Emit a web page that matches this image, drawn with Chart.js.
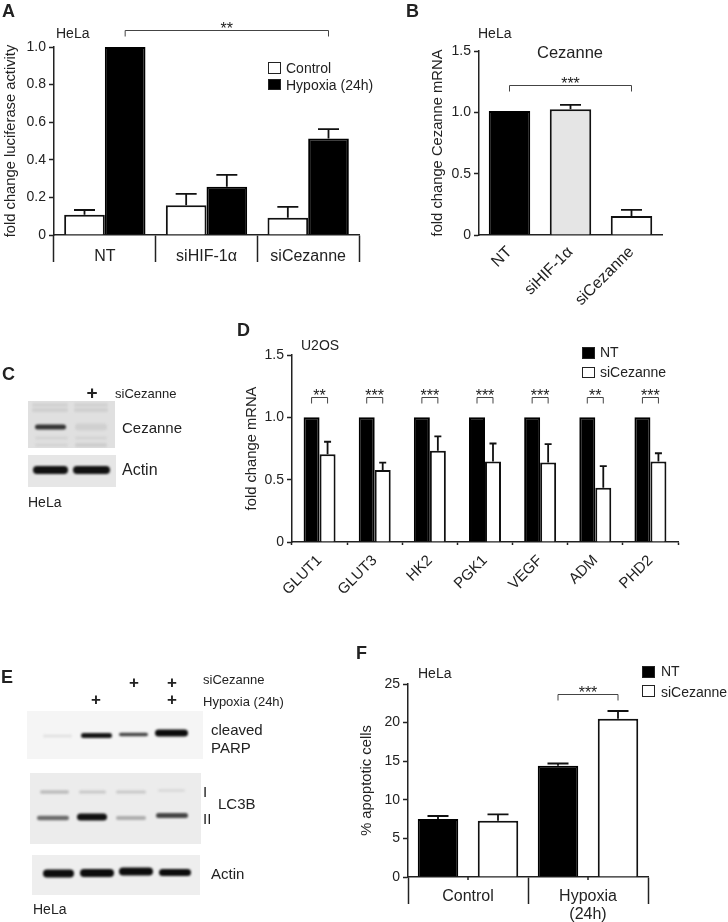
<!DOCTYPE html>
<html>
<head>
<meta charset="utf-8">
<script src="https://cdn.jsdelivr.net/npm/chart.js@4"></script>
<style>
  html, body { margin: 0; padding: 0; background: #fff; }
  #fig { position: relative; width: 728px; height: 922px; overflow: hidden; filter: blur(0.35px);
         font-family: "Liberation Sans", Arial, sans-serif; color: #222; }
  #fig canvas { position: absolute; }
  .txt { position: absolute; white-space: nowrap; line-height: 1; transform: translateY(-50%); }
  .mid { transform: translate(-50%, -50%); }
  .swatch { position: absolute; box-sizing: border-box; border: 1.5px solid #222; }
</style>
</head>
<body>
<div id="fig">
  <canvas id="blots" width="728" height="922"></canvas>
  <canvas id="chartA"></canvas>
  <canvas id="chartB"></canvas>
  <canvas id="chartD"></canvas>
  <canvas id="chartF"></canvas>
</div>
<script>
// panel A
const lucCategories = ['NT', 'siHIF-1α', 'siCezanne'];
const lucControl = [0.108, 0.158, 0.092];
const lucControlTop = [0.133, 0.219, 0.15];
const lucHypoxia = [1.0, 0.257, 0.513];
const lucHypoxiaTop = [null, 0.32, 0.563];

// panel B
const cezCategories = ['NT', 'siHIF-1α', 'siCezanne'];
const cezValues = [1.01, 1.025, 0.155];
const cezTop = [null, 1.06, 0.205];

// panel D
const geneCategories = ['GLUT1', 'GLUT3', 'HK2', 'PGK1', 'VEGF', 'ADM', 'PHD2'];
const geneNT = [1, 1, 1, 1, 1, 1, 1];
const geneSi = [0.704, 0.578, 0.731, 0.645, 0.637, 0.435, 0.645];
const geneSiTop = [0.804, 0.637, 0.847, 0.79, 0.785, 0.608, 0.712];
const geneStars = ['**', '***', '***', '***', '***', '**', '***'];

// panel F
const apoCategories = ['Control', ['Hypoxia', '(24h)']];
const apoNT = [7.5, 14.4];
const apoNTTop = [7.9, 14.7];
const apoSi = [7.3, 20.5];
const apoSiTop = [8.1, 21.5];

const INK = '#222';
const fig = document.getElementById('fig');

// error bars, brackets and the little centre ticks of panel F
const figureMarks = {
  id: 'figureMarks',
  afterDatasetsDraw(chart, args, opts) {
    const c = chart.ctx;
    const y = chart.scales.y;
    c.save();
    (opts.errorTops || []).forEach((tops, ds) => {
      const bars = chart.getDatasetMeta(ds).data;
      tops.forEach((top, i) => {
        if (top == null) return;
        const px = y.getPixelForValue(top);
        c.strokeStyle = '#111';
        c.lineWidth = 1.8;
        c.beginPath();
        c.moveTo(bars[i].x, bars[i].y);
        c.lineTo(bars[i].x, px);
        c.moveTo(bars[i].x - opts.cap / 2, px);
        c.lineTo(bars[i].x + opts.cap / 2, px);
        c.stroke();
      });
    });
    (opts.brackets || []).forEach(b => {
      const x0 = chart.getDatasetMeta(b.from[0]).data[b.from[1]].x;
      const x1 = chart.getDatasetMeta(b.to[0]).data[b.to[1]].x;
      const py = Math.round(y.getPixelForValue(b.top)) + 0.5;
      c.strokeStyle = '#444';
      c.lineWidth = 1;
      c.beginPath();
      c.moveTo(x0, py + 6);
      c.lineTo(x0, py);
      c.lineTo(x1, py);
      c.lineTo(x1, py + 6);
      c.stroke();
      c.fillStyle = INK;
      c.font = '16px "Liberation Sans"';
      c.textAlign = 'center';
      c.fillText(b.stars, (x0 + x1) / 2, py + 3);
    });
    if (opts.centerTicks) {
      const x = chart.scales.x;
      c.strokeStyle = INK;
      c.lineWidth = 1.5;
      x.ticks.forEach((t, i) => {
        const px = x.getPixelForValue(i);
        c.beginPath();
        c.moveTo(px, y.bottom);
        c.lineTo(px, y.bottom + 3);
        c.stroke();
      });
    }
    c.restore();
  }
};

function barSet(label, data, color) {
  return { label, data, backgroundColor: color, borderColor: color === '#000' ? '#000' : '#111', borderWidth: 2 };
}

function makeChart(id, box, area, spec) {
  const cv = document.getElementById(id);
  cv.width = box.r - box.l;
  cv.height = box.b - box.t;
  cv.style.left = box.l + 'px';
  cv.style.top = box.t + 'px';
  return new Chart(cv, {
    type: 'bar',
    data: { labels: spec.labels, datasets: spec.datasets },
    plugins: [figureMarks],
    options: {
      responsive: false,
      animation: false,
      devicePixelRatio: 1,
      layout: { padding: { top: area.t - box.t, right: box.r - area.r, left: 0, bottom: 0 } },
      datasets: { bar: { categoryPercentage: spec.catPct, barPercentage: spec.barPct } },
      plugins: {
        legend: { display: false },
        tooltip: { enabled: false },
        figureMarks: spec.marks
      },
      scales: {
        x: {
          afterFit: s => { s.height = box.b - area.b; },
          border: { color: INK, width: 1.5 },
          grid: { drawOnChartArea: false, offset: true, drawTicks: spec.tickLen > 0,
                  tickLength: spec.tickLen, color: INK, tickWidth: 1.5 },
          ticks: Object.assign({ color: INK, autoSkip: false,
                  font: { family: 'Liberation Sans', size: spec.xSize, lineHeight: 1.15 } }, spec.xTicks)
        },
        y: {
          min: 0, max: spec.max,
          afterFit: s => { s.width = area.l - box.l; },
          border: { color: INK, width: 1.5 },
          grid: { drawOnChartArea: false, tickLength: 5, color: INK, tickWidth: 1.5 },
          ticks: { color: INK, stepSize: spec.step, padding: 3,
                   font: { family: 'Liberation Sans', size: 14 } },
          title: { display: true, text: spec.yTitle, color: INK, padding: { top: 2, bottom: 0 },
                   font: { family: 'Liberation Sans', size: 14.75, lineHeight: 1.2 } }
        }
      }
    }
  });
}

makeChart('chartA', { l: 0, t: 0, r: 400, b: 300 }, { l: 54, t: 47, r: 359, b: 235 }, {
  labels: lucCategories,
  datasets: [barSet('Control', lucControl, '#fff'), barSet('Hypoxia (24h)', lucHypoxia, '#000')],
  catPct: 0.8, barPct: 1, max: 1, step: 0.2, tickLen: 27, xSize: 16,
  xTicks: { padding: -15, maxRotation: 0 },
  yTitle: 'fold change luciferase activity',
  marks: { cap: 21, errorTops: [lucControlTop, lucHypoxiaTop],
           brackets: [{ from: [1, 0], to: [1, 2], top: 1.09, stars: '**' }] }
});

makeChart('chartB', { l: 427, t: 0, r: 700, b: 320 }, { l: 479, t: 51, r: 662, b: 235 }, {
  labels: cezCategories,
  datasets: [{ label: 'Cezanne', data: cezValues, backgroundColor: ['#000', '#e5e5e5', '#fff'],
               borderColor: ['#000', '#111', '#111'], borderWidth: 2 }],
  catPct: 1, barPct: 0.68, max: 1.5, step: 0.5, tickLen: 0, xSize: 16,
  xTicks: { padding: 8, minRotation: 45, maxRotation: 45 },
  yTitle: 'fold change Cezanne mRNA',
  marks: { cap: 21, errorTops: [cezTop],
           brackets: [{ from: [0, 0], to: [0, 2], top: 1.22, stars: '***' }] }
});

makeChart('chartD', { l: 241, t: 330, r: 710, b: 620 }, { l: 292, t: 355, r: 678, b: 542 }, {
  labels: geneCategories,
  datasets: [barSet('NT', geneNT, '#000'), barSet('siCezanne', geneSi, '#fff')],
  catPct: 0.58, barPct: 1, max: 1.5, step: 0.5, tickLen: 3, xSize: 15,
  xTicks: { padding: 7, minRotation: 45, maxRotation: 45 },
  yTitle: 'fold change mRNA',
  marks: { cap: 7, errorTops: [[], geneSiTop],
           brackets: geneStars.map((stars, i) => ({ from: [0, i], to: [1, i], top: 1.16, stars })) }
});

makeChart('chartF', { l: 356, t: 640, r: 690, b: 922 }, { l: 408, t: 684, r: 648, b: 877 }, {
  labels: apoCategories,
  datasets: [barSet('NT', apoNT, '#000'), barSet('siCezanne', apoSi, '#fff')],
  catPct: 1, barPct: 0.675, max: 25, step: 5, tickLen: 27, xSize: 16,
  xTicks: { padding: -17, maxRotation: 0 },
  yTitle: '% apoptotic cells',
  marks: { cap: 21, centerTicks: true, errorTops: [apoNTTop, apoSiTop],
           brackets: [{ from: [0, 1], to: [1, 1], top: 23.7, stars: '***' }] }
});

function text(str, x, y, size, extra) {
  const d = document.createElement('div');
  d.className = 'txt' + (extra && extra.mid ? ' mid' : '');
  d.textContent = str;
  d.style.left = x + 'px';
  d.style.top = y + 'px';
  d.style.fontSize = size + 'px';
  if (extra && extra.bold) d.style.fontWeight = 'bold';
  fig.appendChild(d);
}

function swatch(x, y, w, h, color) {
  const d = document.createElement('div');
  d.className = 'swatch';
  d.style.cssText = `left:${x}px;top:${y}px;width:${w}px;height:${h}px;background:${color}`;
  fig.appendChild(d);
}

// panel letters
[['A', 2, 11], ['B', 406, 11], ['C', 2, 374], ['D', 237, 330], ['E', 1, 677], ['F', 356, 653]]
  .forEach(p => text(p[0], p[1], p[2], 18, { bold: true }));

// panel A labels
text('HeLa', 56, 33, 14);
swatch(268, 62, 13, 12, '#fff'); text('Control', 286, 68, 14);
swatch(268, 79, 13, 11, '#000'); text('Hypoxia (24h)', 286, 85, 14);

// panel B labels
text('HeLa', 478, 33, 14);
text('Cezanne', 570, 52, 16.5, { mid: true });

// panel C labels
text('+', 92, 392, 19, { bold: true, mid: true });
text('siCezanne', 115, 393, 13);
text('Cezanne', 122, 427, 15);
text('Actin', 122, 470, 16);
text('HeLa', 28, 502, 14);

// panel D labels
text('U2OS', 301, 345, 14);
swatch(582, 347, 12.5, 11.5, '#000'); text('NT', 600, 352, 14);
swatch(582, 366.5, 12.5, 11.5, '#fff'); text('siCezanne', 600, 372, 14);

// panel E labels
text('siCezanne', 203, 679, 13);
text('Hypoxia (24h)', 203, 701, 13);
[[134, 682], [172, 682], [96, 699], [172, 699]].forEach(p => text('+', p[0], p[1], 17, { mid: true, bold: true }));
text('cleaved', 211, 729, 15);
text('PARP', 211, 747, 15);
text('I', 203, 791, 15);
text('II', 203, 818, 15);
text('LC3B', 218, 803, 15);
text('Actin', 211, 873, 15);
text('HeLa', 33, 909, 14);

// panel F labels
text('HeLa', 418, 673, 14);
swatch(642, 666, 13, 12, '#000'); text('NT', 661, 671, 14);
swatch(642, 685, 13, 12, '#fff'); text('siCezanne', 661, 692, 14);

// western blots, plain canvas since they are photographs and not data
(function drawBlots() {
  const c = document.getElementById('blots').getContext('2d');
  function panel(x0, y0, x1, y1, bg, bands) {
    c.save();
    c.fillStyle = bg;
    c.fillRect(x0, y0, x1 - x0, y1 - y0);
    c.beginPath();
    c.rect(x0, y0, x1 - x0, y1 - y0);
    c.clip();
    c.filter = 'blur(1.3px)';
    bands.forEach(b => {
      c.fillStyle = b[4];
      c.beginPath();
      c.roundRect(b[0], b[1] - b[3] / 2, b[2] - b[0], b[3], b[3] / 2);
      c.fill();
    });
    c.restore();
  }
  // C, Cezanne
  panel(28, 401, 115, 448, '#e0e0e0', [
    [32, 405, 68, 4, '#d2d2d2'], [74, 405, 108, 4, '#d2d2d2'],
    [32, 410, 68, 4, '#cfcfcf'], [74, 410, 108, 4, '#cfcfcf'],
    [35, 427, 66, 5, '#333'],
    [75, 427, 107, 7, '#d0d0d0'],
    [35, 438, 68, 3, '#d3d3d3'], [75, 438, 107, 3, '#d3d3d3'],
    [35, 445, 68, 3, '#d3d3d3'], [75, 445, 107, 4, '#cdcdcd']
  ]);
  // C, Actin
  panel(28, 455, 116, 487, '#e6e6e6', [
    [33, 470, 68, 8, '#111'], [73, 470, 110, 8, '#111']
  ]);
  // E, cleaved PARP
  panel(27, 711, 203, 759, '#f5f5f5', [
    [43, 736, 72, 2.5, '#e0e0e0'],
    [81, 735.5, 112, 5, '#151515'],
    [119, 734.5, 148, 3.5, '#444'],
    [155, 733, 188, 7, '#0c0c0c']
  ]);
  // E, LC3B
  panel(30, 773, 201, 844, '#ececec', [
    [40, 792, 69, 3.5, '#bcbcbc'], [79, 792, 106, 3, '#c8c8c8'],
    [116, 792, 146, 3, '#c8c8c8'], [158, 790.5, 185, 2.5, '#d8d8d8'],
    [37, 818, 69, 4.5, '#6a6a6a'], [77, 817, 107, 7, '#111'],
    [116, 818, 146, 4, '#adadad'], [156, 815.5, 188, 5, '#444']
  ]);
  // E, Actin
  panel(32, 855, 200, 895, '#eeeeee', [
    [43, 873.5, 74, 8, '#0c0c0c'], [80, 873, 114, 8, '#0c0c0c'],
    [119, 871.5, 153, 8, '#0c0c0c'], [159, 872.5, 191, 7, '#0c0c0c']
  ]);
})();
</script>
</body>
</html>
